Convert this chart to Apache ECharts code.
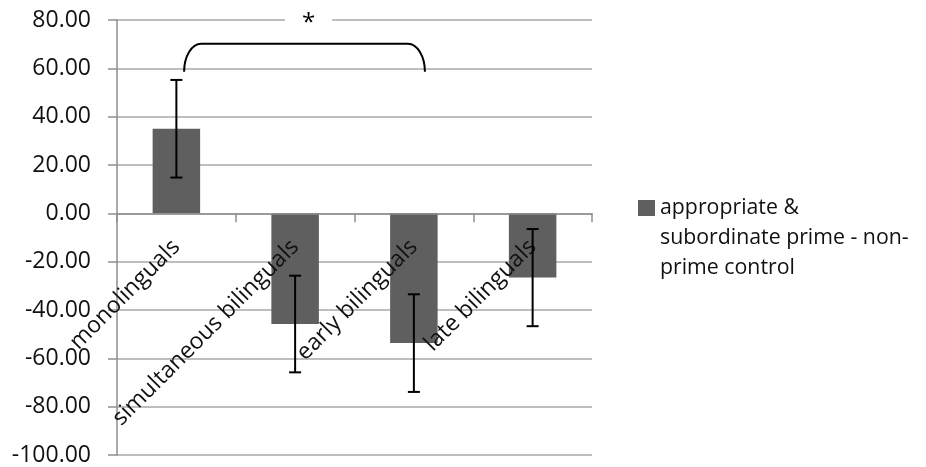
<!DOCTYPE html>
<html><head><meta charset="utf-8">
<script src="https://cdn.jsdelivr.net/npm/echarts@6/dist/echarts.min.js"></script>
<style>html,body{margin:0;padding:0;background:#fff}#c{width:926px;height:467px}</style>
</head><body><div id="c"></div>
<script>
// ---- data ----
const categories = ['monolinguals', 'simultaneous bilinguals', 'early bilinguals', 'late bilinguals'];
const seriesName = 'appropriate & subordinate prime - non-prime control';
const legendLines = ['appropriate &', 'subordinate prime - non-', 'prime control'];
const means = [35.0, -45.8, -53.7, -26.6];
const errors = [20.2, 20.0, 20.2, 20.1];
const yMin = -100, yMax = 80, yInterval = 20;
// significance bracket: [from category, to category, arm end value, top value, star value]
const bracket = [[0, 2, 58.6, 70.2, 78.5]];
const significanceMark = '*';

const FONT = '"Open Sans", "Liberation Sans", sans-serif';
const TEXT = '#111';
const GRID = '#a9a9a9';
const AXIS = '#8e8e8e';

const chart = echarts.init(document.getElementById('c'), null, {renderer: 'canvas'});
chart.setOption({
  animation: false,
  backgroundColor: '#fff',
  grid: {left: 117, right: 334, top: 20, bottom: 12, containLabel: false, outerBoundsMode: 'none'},
  legend: {
    data: [seriesName],
    left: 633, top: 128,
    icon: 'rect', itemWidth: 17, itemHeight: 16, itemGap: 10,
    formatter: () => '\n\n' + legendLines.join('\n'),
    textStyle: {fontFamily: FONT, fontSize: 21.3, lineHeight: 30, color: TEXT}
  },
  xAxis: {
    type: 'category', data: categories, z: 3,
    axisLine: {onZero: false, lineStyle: {color: AXIS, width: 1.5}},
    axisTick: {show: true, length: 9, lineStyle: {color: AXIS, width: 1.5}},
    axisLabel: {interval: 0, rotate: 45, margin: 30, fontFamily: FONT, fontSize: 23, color: TEXT},
    splitLine: {show: false}
  },
  yAxis: {
    type: 'value', min: yMin, max: yMax, interval: yInterval,
    axisLine: {show: true, lineStyle: {color: AXIS, width: 1.5}},
    axisTick: {show: true, length: 9, lineStyle: {color: AXIS, width: 1.5}},
    axisLabel: {margin: 26, fontFamily: FONT, fontSize: 23, color: TEXT, formatter: v => v.toFixed(2)},
    splitLine: {show: true, lineStyle: {color: GRID, width: 1.5}}
  },
  series: [
    {
      name: seriesName, type: 'bar', data: means, barWidth: '40%', z: 2,
      itemStyle: {color: '#5f5f5f'}
    },
    {
      type: 'custom', z: 5, silent: true,
      data: means.map((m, i) => [i, m, errors[i]]),
      renderItem: (params, api) => {
        const x = api.value(0), m = api.value(1), e = api.value(2);
        const top = api.coord([x, m + e]);
        const bot = api.coord([x, m - e]);
        const hw = 6;
        const st = {stroke: '#000', lineWidth: 2};
        return {type: 'group', children: [
          {type: 'line', shape: {x1: top[0], y1: top[1], x2: bot[0], y2: bot[1]}, style: st},
          {type: 'line', shape: {x1: top[0] - hw, y1: top[1], x2: top[0] + hw, y2: top[1]}, style: st},
          {type: 'line', shape: {x1: bot[0] - hw, y1: bot[1], x2: bot[0] + hw, y2: bot[1]}, style: st}
        ]};
      }
    },
    {
      type: 'custom', z: 6, silent: true,
      data: bracket,
      renderItem: (params, api) => {
        const band = api.size([1, 0])[0];
        const pL = api.coord([api.value(0), api.value(3)]);
        const pR = api.coord([api.value(1), api.value(3)]);
        const yEnd = api.coord([api.value(0), api.value(2)])[1];
        const yStar = api.coord([api.value(0), api.value(4)])[1];
        const xl = pL[0] + band * 0.065, xr = pR[0] + band * 0.093, yTop = pL[1];
        const rx = 17, ry = yEnd - yTop, k = 0.5523;
        const d = `M${xl},${yEnd} C${xl},${yEnd - k * ry} ${xl + rx - k * rx},${yTop} ${xl + rx},${yTop} ` +
                  `L${xr - rx},${yTop} C${xr - rx + k * rx},${yTop} ${xr},${yEnd - k * ry} ${xr},${yEnd}`;
        return {type: 'group', children: [
          {type: 'path', shape: {pathData: d}, style: {stroke: '#000', lineWidth: 2, fill: null}},
          {type: 'text', x: (xl + xr) / 2 + 4, y: yStar,
           style: {text: significanceMark, fill: '#000', font: '24px ' + FONT, align: 'center', verticalAlign: 'middle',
                   backgroundColor: '#fff', padding: [4, 17]}}
        ]};
      }
    }
  ]
});
// place the category axis on the zero line (labels included), measured through the value scale
const zeroPx = chart.convertToPixel({yAxisIndex: 0}, 0);
const bottomPx = chart.convertToPixel({yAxisIndex: 0}, yMin);
chart.setOption({xAxis: {offset: zeroPx - bottomPx}});
</script></body></html>
